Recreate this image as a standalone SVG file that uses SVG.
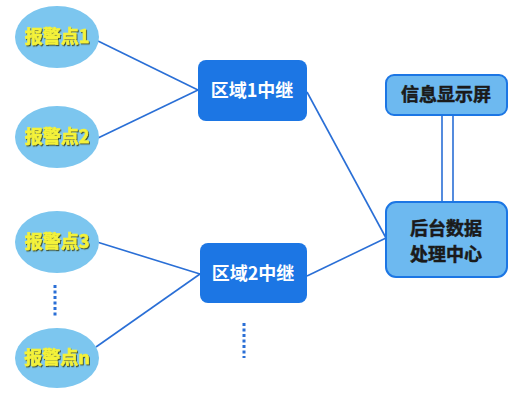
<svg xmlns="http://www.w3.org/2000/svg" width="522" height="404" viewBox="0 0 522 404">
<defs>
<filter id="sh" x="-20%" y="-20%" width="140%" height="140%"><feDropShadow dx="1" dy="1.2" stdDeviation="0.6" flood-color="#3a4a20" flood-opacity="0.9"/></filter>
</defs>
<style>
.ell{fill:#7cc6ef}
.yt{font-family:"Noto Sans CJK SC","Liberation Sans",sans-serif;font-weight:bold;font-size:18px;fill:#f4f23a;stroke:#f4f23a;stroke-width:0.6;text-anchor:middle;filter:url(#sh)}
.relay{fill:#1c76e4}
.wt{font-family:"Noto Sans CJK SC","Liberation Sans",sans-serif;font-weight:bold;font-size:18px;fill:#ffffff;text-anchor:middle}
.lb{fill:#6db9f0;stroke:#1c76e4;stroke-width:2}
.dt{font-family:"Noto Sans CJK SC","Liberation Sans",sans-serif;font-weight:bold;font-size:18px;fill:#1a1a1a;stroke:#1a1a1a;stroke-width:0.5;text-anchor:middle}
.ln{stroke:#2a6fd6;stroke-width:1.6;fill:none}
.dots{stroke:#2a6fd6;stroke-width:3;stroke-dasharray:3,2.5;fill:none}
</style>
<g id="connectors">
<line class="ln" x1="98" y1="41" x2="198" y2="90"/>
<line class="ln" x1="98" y1="138" x2="198" y2="90"/>
<line class="ln" x1="97" y1="242" x2="200" y2="274"/>
<line class="ln" x1="96" y1="347" x2="200" y2="274"/>
<line class="ln" x1="307" y1="92" x2="386" y2="238"/>
<line class="ln" x1="307" y1="276" x2="386" y2="238"/>
<line class="ln" x1="442" y1="115" x2="442" y2="202"/>
<line class="ln" x1="453" y1="115" x2="453" y2="202"/>
<line class="dots" x1="55" y1="285" x2="55" y2="318"/>
<line class="dots" x1="244" y1="323" x2="244" y2="358"/>
</g>
<g id="p1"><ellipse class="ell" cx="57" cy="37" rx="42" ry="31"/><text class="yt" x="57" y="43">报警点1</text></g>
<g id="p2"><ellipse class="ell" cx="57" cy="137" rx="42" ry="31"/><text class="yt" x="57" y="143">报警点2</text></g>
<g id="p3"><ellipse class="ell" cx="57" cy="242" rx="42" ry="31"/><text class="yt" x="57" y="248">报警点3</text></g>
<g id="pn"><ellipse class="ell" cx="57" cy="358" rx="42" ry="30"/><text class="yt" x="57" y="364">报警点n</text></g>
<g id="r1"><rect class="relay" x="198" y="60" width="109" height="61" rx="8"/><text class="wt" x="252" y="97">区域1中继</text></g>
<g id="r2"><rect class="relay" x="200" y="243" width="107" height="60" rx="8"/><text class="wt" x="253" y="280">区域2中继</text></g>
<g id="disp"><rect class="lb" x="386" y="75" width="121" height="40" rx="8"/><text class="dt" x="446" y="101">信息显示屏</text></g>
<g id="center"><rect class="lb" x="386" y="202" width="121" height="75" rx="10"/><text class="dt" x="446" y="235">后台数据</text><text class="dt" x="446" y="261">处理中心</text></g>
</svg>
